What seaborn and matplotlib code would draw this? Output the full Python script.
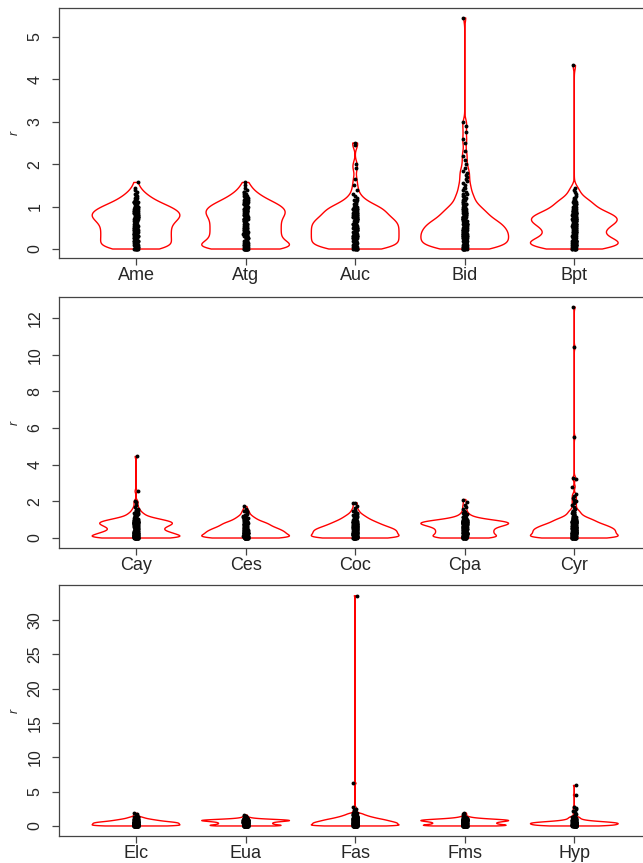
import numpy as np
import pandas as pd
import matplotlib
matplotlib.use("Agg")
import matplotlib.pyplot as plt
import seaborn as sns

# r values: how many samples sit at each level of body_r,
# plus the single values above the body (tail)
body_r = [0.00, 0.05, 0.10, 0.15, 0.20, 0.25, 0.30, 0.35, 0.40, 0.45,
          0.50, 0.55, 0.60, 0.65, 0.70, 0.75, 0.80, 0.85, 0.90, 0.95,
          1.00, 1.05, 1.10, 1.15, 1.20, 1.25, 1.30, 1.35, 1.40, 1.45]

Ame_n = [7, 7, 6, 6, 6, 6, 6, 6, 6, 6, 6, 6, 6, 7, 7, 8, 8, 8, 7, 7, 6, 5, 4, 3, 3, 2, 2, 1, 1, 1]
Ame_tail = [1.57]
Atg_n = [12, 10, 8, 7, 6, 6, 6, 6, 6, 6, 6, 6, 6, 6, 6, 6, 7, 7, 7, 7, 6, 6, 5, 4, 3, 3, 2, 2, 1, 1]
Atg_tail = [1.5, 1.57]
Auc_n = [7, 7, 7, 7, 7, 7, 7, 7, 7, 7, 7, 7, 7, 7, 6, 6, 5, 5, 5, 5, 4, 3, 2, 2, 1, 1, 1, 0, 1, 0]
Auc_tail = [1.5, 1.65, 1.9, 2.0, 2.45, 2.5]
Bid_n = [8, 8, 9, 9, 9, 9, 9, 9, 9, 9, 8, 8, 8, 7, 6, 5, 5, 5, 4, 4, 3, 3, 2, 2, 2, 2, 2, 1, 1, 2]
Bid_tail = [1.5, 1.55, 1.6, 1.65, 1.7, 1.75, 1.8, 1.85, 1.9, 2.0, 2.1, 2.2, 2.3, 2.5, 2.6,
            2.75, 2.9, 3.0, 5.45]
Bpt_n = [7, 8, 9, 9, 8, 6, 5, 5, 5, 5, 6, 6, 7, 8, 8, 8, 7, 6, 5, 4, 3, 4, 3, 3, 2, 1, 1, 1, 1, 1]
Bpt_tail = [4.33]

Cay_n = [16, 13, 10, 9, 9, 9, 8, 7, 6, 6, 6, 6, 7, 7, 8, 8, 9, 9, 8, 7, 6, 5, 4, 3, 2, 2, 2, 2, 1, 1]
Cay_tail = [1.5, 1.55, 1.6, 1.7, 1.8, 1.95, 2.0, 2.55, 4.45]
Ces_n = [17, 14, 11, 10, 10, 10, 10, 10, 9, 9, 8, 8, 7, 6, 6, 6, 6, 5, 4, 3, 3, 3, 2, 2, 2, 1, 1, 1, 1, 1]
Ces_tail = [1.5, 1.6, 1.72]
Coc_n = [16, 13, 10, 10, 10, 10, 10, 10, 10, 10, 9, 9, 8, 7, 7, 6, 6, 5, 5, 4, 4, 3, 3, 3, 2, 2, 2, 1, 1, 1]
Coc_tail = [1.5, 1.55, 1.65, 1.75, 1.9, 1.92]
Cpa_n = [12, 10, 8, 7, 7, 7, 7, 7, 7, 7, 7, 7, 8, 9, 10, 11, 12, 12, 11, 8, 6, 4, 3, 2, 2, 1, 1, 1, 1, 0]
Cpa_tail = [1.5, 1.6, 1.7, 1.8, 1.95, 2.1]
Cyr_n = [16, 13, 11, 10, 10, 10, 10, 10, 10, 10, 10, 9, 9, 8, 8, 7, 6, 6, 5, 5, 5, 4, 3, 3, 2, 2, 2, 1, 2, 1]
Cyr_tail = [1.5, 1.5, 1.6, 1.7, 1.8, 1.9, 2.0, 2.1, 2.2, 2.3, 2.4, 2.8, 3.2, 3.3, 5.5, 10.4, 12.6]

Elc_n = [14, 12, 10, 10, 10, 10, 10, 10, 10, 10, 10, 9, 8, 7, 6, 6, 5, 5, 4, 4, 3, 3, 2, 2, 2, 2, 1, 1, 1, 0]
Elc_tail = [1.5, 1.6, 1.7, 1.85]
Eua_n = [16, 14, 10, 7, 7, 7, 7, 7, 7, 7, 7, 7, 8, 9, 11, 13, 13, 13, 11, 8, 5, 3, 2, 2, 1, 1, 1, 0, 1, 0]
Eua_tail = [1.5, 1.6]
Fas_n = [14, 12, 11, 10, 10, 10, 10, 10, 10, 10, 10, 9, 9, 9, 8, 8, 8, 7, 7, 7, 6, 6, 5, 5, 5, 4, 4, 4, 3, 3]
Fas_tail = [1.5, 1.5, 1.5, 1.55, 1.55, 1.55, 1.6, 1.6, 1.65, 1.65, 1.7, 1.7, 1.75, 1.75, 1.8, 1.8,
            1.85, 1.9, 2.0, 2.1, 2.2, 2.35, 2.5, 2.7, 6.2, 33.5]
Fms_n = [16, 14, 12, 10, 9, 8, 8, 8, 8, 8, 8, 8, 9, 10, 11, 12, 12, 12, 11, 9, 7, 5, 4, 3, 2, 2, 1, 1, 1, 0]
Fms_tail = [1.5, 1.6, 1.7, 1.8, 1.9]
Hyp_n = [10, 10, 10, 10, 10, 11, 11, 11, 11, 11, 10, 9, 8, 6, 5, 4, 3, 3, 2, 2, 2, 1, 2, 1, 2, 1, 1, 1, 1, 0]
Hyp_tail = [1.6, 1.8, 2.0, 2.2, 2.4, 2.6, 2.8, 4.5, 5.9]

panels = [
    (["Ame", "Atg", "Auc", "Bid", "Bpt"],
     [(Ame_n, Ame_tail), (Atg_n, Atg_tail), (Auc_n, Auc_tail), (Bid_n, Bid_tail), (Bpt_n, Bpt_tail)],
     [0, 1, 2, 3, 4, 5]),
    (["Cay", "Ces", "Coc", "Cpa", "Cyr"],
     [(Cay_n, Cay_tail), (Ces_n, Ces_tail), (Coc_n, Coc_tail), (Cpa_n, Cpa_tail), (Cyr_n, Cyr_tail)],
     [0, 2, 4, 6, 8, 10, 12]),
    (["Elc", "Eua", "Fas", "Fms", "Hyp"],
     [(Elc_n, Elc_tail), (Eua_n, Eua_tail), (Fas_n, Fas_tail), (Fms_n, Fms_tail), (Hyp_n, Hyp_tail)],
     [0, 5, 10, 15, 20, 25, 30]),
]

sns.set_style("white")
plt.rcParams["font.family"] = ["Liberation Sans", "DejaVu Sans"]

W, H = 643, 863
fig = plt.figure(figsize=(W / 100, H / 100), dpi=100)

# axes boxes in pixels: left, top, right, bottom
boxes = [(59, 8, 651, 258), (59, 297, 651, 548), (59, 585, 651, 836)]
ylims = [(-0.212, 5.684), (-0.545, 13.15), (-1.46, 35.07)]
KW = 0.1  # kernel width in r units

for i, (cats, vals, yticks) in enumerate(panels):
    l, t, r, b = boxes[i]
    ax = fig.add_axes([l / W, 1 - b / H, (r - l) / W, (b - t) / H])
    rows = []
    for sp, (n, tail) in zip(cats, vals):
        rv = np.concatenate([np.repeat(body_r, n), tail])
        rows.append(pd.DataFrame({"sp": sp, "r": rv}))
    df = pd.concat(rows, ignore_index=True)
    for sp in cats:
        sub = df[df["sp"] == sp]
        sns.violinplot(data=sub, x="sp", y="r", order=cats, ax=ax, inner=None,
                       cut=0, bw_method=KW / sub["r"].std(), gridsize=3000,
                       density_norm="width", width=0.8,
                       fill=False, color="red", linewidth=1.0)
    sns.stripplot(data=df, x="sp", y="r", order=cats, ax=ax, color="black",
                  size=2.8, jitter=0.02, zorder=5)
    ax.set_xlim(-0.703, 4.70)
    ax.set_ylim(*ylims[i])
    ax.set_yticks(yticks)
    ax.set_xlabel("")
    ax.set_ylabel("r", style="italic", fontsize=9)
    ax.yaxis.set_label_coords((21 - l) / (r - l), 0.5)
    ax.tick_params(axis="both", direction="out", length=5, width=0.9, color="#444444",
                   left=True, bottom=True)
    ax.tick_params(axis="x", labelsize=13, pad=1.5)
    ax.tick_params(axis="y", labelsize=11.5, pad=7, labelrotation=90)
    for lab in ax.get_yticklabels():
        lab.set_va("center")
    for s in ax.spines.values():
        s.set_color("#444444")
        s.set_linewidth(0.9)

fig.savefig("out.png", dpi=100)
